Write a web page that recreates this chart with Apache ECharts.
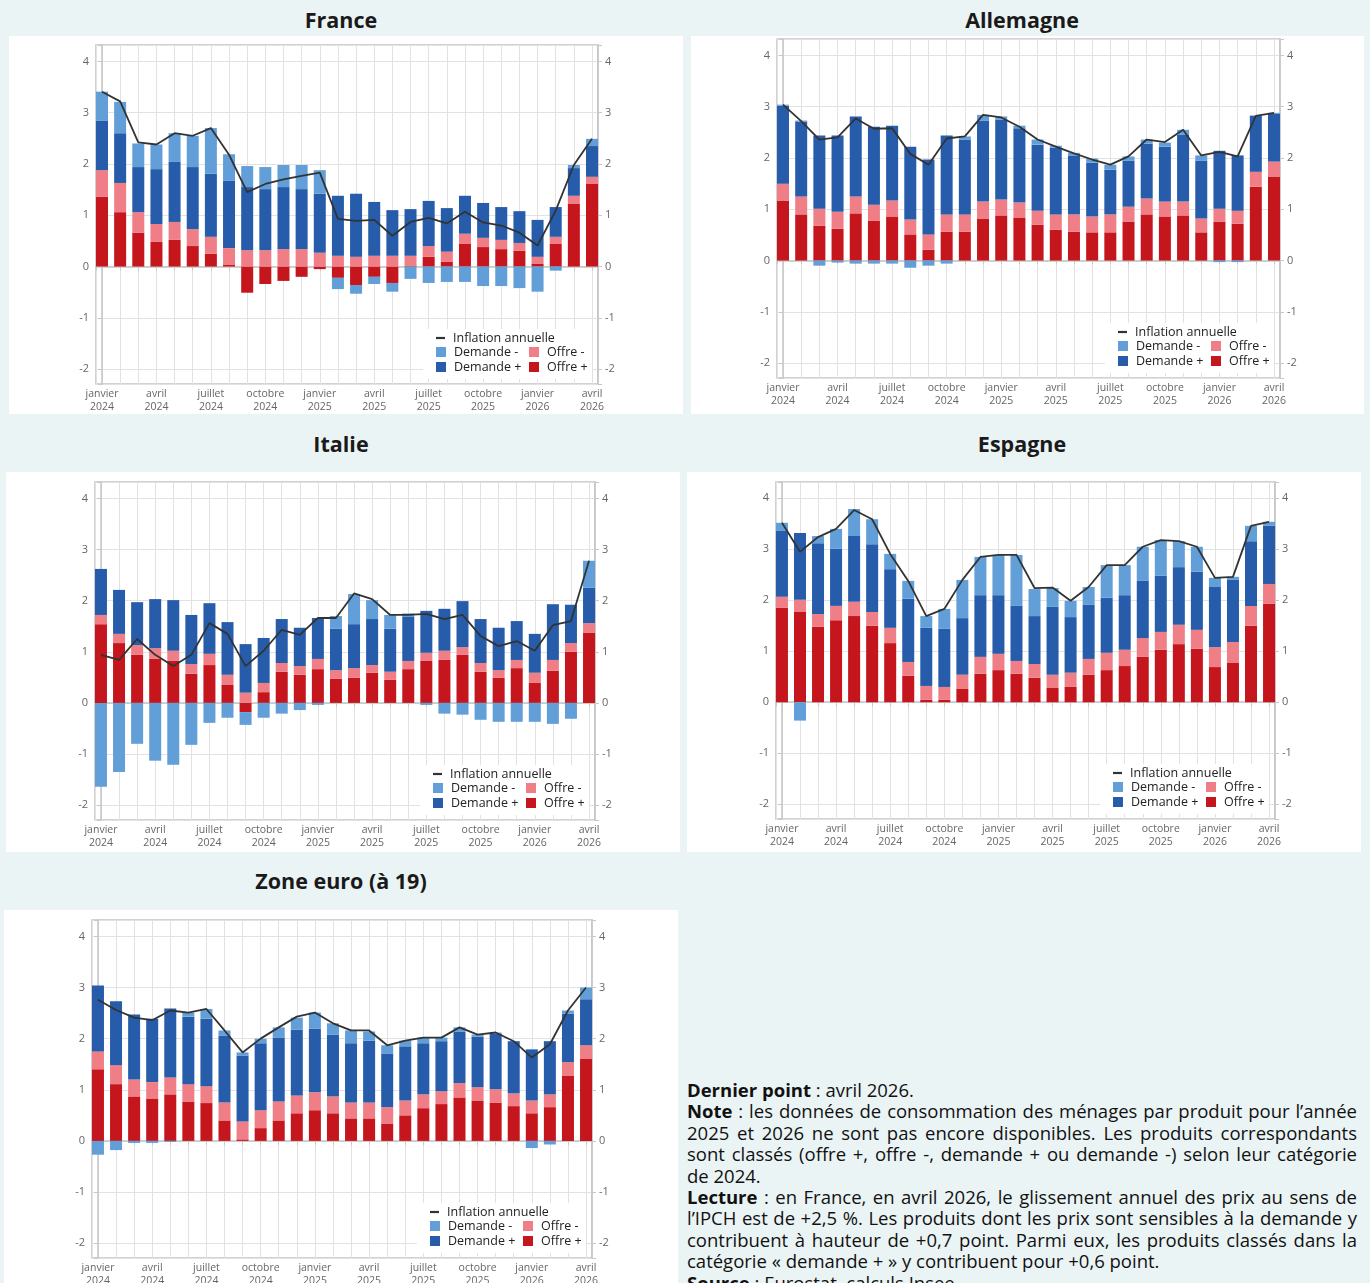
<!DOCTYPE html>
<html><head><meta charset="utf-8">
<script src="https://cdn.jsdelivr.net/npm/echarts@6/dist/echarts.min.js"></script>
<style>
html,body{margin:0;padding:0;width:1370px;height:1283px;overflow:hidden;background:#ebf4f5;font-family:'Open Sans','Noto Sans',sans-serif;}
.title{position:absolute;font-weight:bold;font-size:21.5px;line-height:26px;text-align:center;color:#1a1a1a;}
.box{position:absolute;background:#fff;}
.note{position:absolute;left:687px;top:1079px;width:670px;font-size:18.5px;line-height:21.4px;text-align:justify;color:#111;}
.note p{margin:0;}
</style></head>
<body>
<div class="title" style="left:0;width:682px;top:7px;">France</div>
<div class="title" style="left:682px;width:680px;top:7px;">Allemagne</div>
<div class="title" style="left:0;width:682px;top:431px;">Italie</div>
<div class="title" style="left:682px;width:680px;top:431px;">Espagne</div>
<div class="title" style="left:0;width:682px;top:868px;">Zone euro (à 19)</div>
<div class="box" id="fr" style="left:9px;top:36px;width:674px;height:378px;"></div>
<div class="box" id="de" style="left:691px;top:36px;width:673px;height:378px;"></div>
<div class="box" id="it" style="left:6px;top:472px;width:674px;height:380px;"></div>
<div class="box" id="es" style="left:687px;top:472px;width:674px;height:380px;"></div>
<div class="box" id="ez" style="left:4px;top:910px;width:674px;height:380px;"></div>
<div class="note">
<p><b>Dernier point</b> : avril 2026.</p>
<p><b>Note</b> : les données de consommation des ménages par produit pour l’année 2025 et 2026 ne sont pas encore disponibles. Les produits correspondants sont classés (offre +, offre -, demande + ou demande -) selon leur catégorie de 2024.</p>
<p><b>Lecture</b> : en France, en avril 2026, le glissement annuel des prix au sens de l’IPCH est de +2,5 %. Les produits dont les prix sont sensibles à la demande y contribuent à hauteur de +0,7 point. Parmi eux, les produits classés dans la catégorie « demande + » y contribuent pour +0,6 point.</p>
<p><b>Source</b> : Eurostat, calculs Insee.</p>
</div>
<script>
// ---- Categories (months) ----
const categories = ['2024-01','2024-02','2024-03','2024-04','2024-05','2024-06','2024-07','2024-08','2024-09','2024-10','2024-11','2024-12',
  '2025-01','2025-02','2025-03','2025-04','2025-05','2025-06','2025-07','2025-08','2025-09','2025-10','2025-11','2025-12',
  '2026-01','2026-02','2026-03','2026-04'];
const tickMonthNames = {'01':'janvier','04':'avril','07':'juillet','10':'octobre'};
const seriesNames = ['Offre +','Offre -','Demande +','Demande -','Inflation annuelle'];
const yTickValues = [-2,-1,0,1,2,3,4];

// ---- France ----
const franceOffrePlus    = [1.36,1.06,0.66,0.48,0.52,0.40,0.25,0.03,-0.51,-0.34,-0.28,-0.20,-0.05,-0.22,-0.36,-0.20,-0.32,0.02,0.19,0.09,0.44,0.38,0.34,0.31,0.05,0.44,1.22,1.61];
const franceOffreMoins   = [0.52,0.57,0.40,0.35,0.35,0.33,0.33,0.33,0.32,0.32,0.34,0.34,0.27,0.21,0.19,0.21,0.21,0.19,0.21,0.20,0.20,0.18,0.18,0.15,0.14,0.14,0.16,0.14];
const franceDemandePlus  = [0.96,0.97,0.88,1.07,1.17,1.21,1.23,1.31,1.23,1.19,1.21,1.17,1.15,1.17,1.23,1.05,0.89,0.91,0.88,0.85,0.74,0.68,0.64,0.62,0.72,0.58,0.54,0.60];
const franceDemandeMoins = [0.57,0.61,0.46,0.48,0.56,0.61,0.89,0.52,0.41,0.43,0.43,0.47,0.46,-0.22,-0.17,-0.14,-0.17,-0.24,-0.32,-0.30,-0.30,-0.38,-0.38,-0.42,-0.49,-0.08,0.06,0.14];
const franceInflation    = [3.41,3.22,2.42,2.38,2.60,2.55,2.70,2.18,1.45,1.61,1.70,1.77,1.83,0.93,0.89,0.91,0.60,0.87,0.95,0.84,1.07,0.86,0.80,0.66,0.41,1.09,1.98,2.49];

// ---- Allemagne ----
const allemagneOffrePlus    = [1.17,0.90,0.68,0.62,0.92,0.78,0.86,0.51,0.21,0.56,0.56,0.82,0.88,0.84,0.70,0.60,0.56,0.55,0.55,0.76,0.90,0.86,0.88,0.55,0.76,0.72,1.44,1.64];
const allemagneOffreMoins   = [0.33,0.35,0.33,0.33,0.33,0.31,0.31,0.29,0.30,0.34,0.34,0.33,0.31,0.29,0.27,0.30,0.34,0.31,0.35,0.29,0.31,0.29,0.27,0.27,0.25,0.25,0.29,0.29];
const allemagneDemandePlus  = [1.52,1.46,1.43,1.49,1.56,1.52,1.46,1.42,1.46,1.54,1.46,1.58,1.56,1.45,1.29,1.30,1.15,1.05,0.87,0.90,1.07,1.07,1.30,1.13,1.13,1.08,1.09,0.93];
const allemagneDemandeMoins = [0.02,0.02,-0.10,-0.04,-0.06,-0.06,-0.06,-0.14,-0.10,-0.06,0.06,0.11,0.06,0.05,0.10,0.04,0.05,0.08,0.10,0.08,0.08,0.08,0.10,0.10,-0.03,-0.03,0.01,0.02];
const allemagneInflation    = [3.04,2.72,2.36,2.40,2.77,2.57,2.58,2.08,1.87,2.38,2.42,2.84,2.79,2.61,2.36,2.22,2.09,1.97,1.87,2.03,2.36,2.31,2.55,2.05,2.12,2.03,2.82,2.88];

// ---- Italie ----
const italieOffrePlus    = [1.54,1.17,0.94,0.86,0.82,0.57,0.74,0.35,-0.18,0.21,0.61,0.55,0.66,0.47,0.49,0.59,0.45,0.66,0.82,0.84,0.94,0.61,0.49,0.68,0.39,0.63,1.00,1.37];
const italieOffreMoins   = [0.18,0.18,0.19,0.21,0.20,0.19,0.22,0.20,0.20,0.18,0.17,0.17,0.20,0.17,0.19,0.15,0.16,0.16,0.16,0.18,0.15,0.17,0.15,0.16,0.20,0.21,0.17,0.19];
const italieDemandePlus  = [0.90,0.86,0.84,0.96,0.99,0.96,0.99,1.03,0.95,0.88,0.86,0.75,0.80,0.81,0.86,0.90,0.84,0.86,0.82,0.82,0.90,0.86,0.83,0.76,0.76,1.09,0.75,0.69];
const italieDemandeMoins = [-1.64,-1.35,-0.80,-1.13,-1.21,-0.82,-0.39,-0.29,-0.25,-0.29,-0.21,-0.14,-0.04,0.25,0.59,0.37,0.27,0.07,-0.04,-0.21,-0.23,-0.33,-0.37,-0.37,-0.37,-0.41,-0.31,0.53];
const italieInflation    = [0.94,0.84,1.25,0.94,0.72,0.94,1.56,1.35,0.72,1.02,1.43,1.33,1.66,1.66,2.14,2.03,1.72,1.72,1.74,1.64,1.72,1.31,1.11,1.21,1.02,1.52,1.60,2.78];

// ---- Espagne ----
const espagneOffrePlus    = [1.85,1.77,1.48,1.61,1.69,1.50,1.16,0.52,0.05,0.05,0.26,0.56,0.63,0.56,0.48,0.28,0.30,0.54,0.63,0.71,0.89,1.03,1.14,1.05,0.69,0.77,1.50,1.93];
const espagneOffreMoins   = [0.22,0.24,0.25,0.28,0.28,0.27,0.30,0.27,0.27,0.25,0.28,0.33,0.32,0.25,0.27,0.26,0.28,0.31,0.34,0.32,0.37,0.35,0.38,0.37,0.39,0.41,0.39,0.39];
const espagneDemandePlus  = [1.29,1.31,1.39,1.12,1.29,1.33,1.15,1.24,1.14,1.14,1.11,1.21,1.15,1.08,0.94,1.33,1.09,1.06,1.08,1.07,1.12,1.10,1.13,1.14,1.18,1.22,1.27,1.14];
const espagneDemandeMoins = [0.16,-0.36,0.14,0.39,0.53,0.49,0.30,0.35,0.23,0.39,0.75,0.75,0.79,1.00,0.53,0.37,0.32,0.35,0.64,0.59,0.67,0.70,0.51,0.49,0.18,0.06,0.30,0.08];
const espagneInflation    = [3.52,2.95,3.24,3.40,3.77,3.59,2.91,2.38,1.69,1.83,2.40,2.85,2.89,2.89,2.24,2.25,1.99,2.26,2.69,2.69,3.05,3.18,3.16,3.05,2.44,2.46,3.46,3.54];

// ---- Zone euro ----
const zoneEuroOffrePlus    = [1.40,1.11,0.87,0.83,0.91,0.77,0.74,0.40,0.03,0.25,0.40,0.54,0.60,0.54,0.44,0.44,0.34,0.50,0.64,0.72,0.85,0.79,0.75,0.68,0.54,0.66,1.28,1.61];
const zoneEuroOffreMoins   = [0.35,0.37,0.33,0.32,0.33,0.34,0.33,0.35,0.35,0.35,0.37,0.35,0.35,0.33,0.31,0.31,0.32,0.29,0.27,0.25,0.28,0.26,0.26,0.25,0.25,0.25,0.26,0.26];
const zoneEuroDemandePlus  = [1.29,1.25,1.27,1.24,1.35,1.32,1.32,1.31,1.29,1.31,1.25,1.29,1.25,1.21,1.16,1.21,1.05,1.06,1.00,0.98,1.01,0.99,1.09,1.02,1.00,1.04,0.95,0.90];
const zoneEuroDemandeMoins = [-0.27,-0.18,-0.04,-0.04,-0.02,0.08,0.19,0.10,0.06,0.09,0.20,0.23,0.31,0.22,0.25,0.18,0.16,0.11,0.11,0.07,0.08,0.04,0.02,0.00,-0.14,-0.07,0.06,0.23];
const zoneEuroInflation    = [2.76,2.56,2.41,2.36,2.55,2.51,2.58,2.16,1.73,2.00,2.22,2.43,2.51,2.30,2.16,2.16,1.87,1.96,2.02,2.02,2.22,2.08,2.12,1.95,1.63,1.89,2.55,3.00];

// ---- Styling ----
const COLORS = {'Offre +':'#c4161c','Offre -':'#f07e87','Demande +':'#265ca9','Demande -':'#629fd8','Inflation annuelle':'#333333'};
const FONT = "'Open Sans','Noto Sans',sans-serif";
const Y_MIN = -2.29, Y_MAX = 4.32;
const X_PAD = 0.33;

function tickLabel(v){
  const i = Math.round(v);
  if (Math.abs(v - i) > 1e-6 || i < 0 || i >= categories.length) return '';
  const [y, m] = categories[i].split('-');
  return tickMonthNames[m] ? tickMonthNames[m] + '\n' + y : '';
}
function yLabel(v){
  const r = Math.round(v);
  return (Math.abs(v - r) < 1e-6 && yTickValues.indexOf(r) >= 0) ? String(r) : '';
}

function makePanel(id, grid, values){
  const chart = echarts.init(document.getElementById(id));
  const R = grid.left + grid.width, B = grid.top + grid.height;
  const n = categories.length;
  // inner grid: spans first to last category centre, matching the padded frame axis
  const inset = grid.width * X_PAD / (n - 1 + 2 * X_PAD);
  const series = [];
  for (let k = 0; k < 4; k++){
    series.push({name: seriesNames[k], type:'bar', stack:'total', barWidth:12, clip:false,
      xAxisIndex:1, yAxisIndex:2,
      data: values[k], itemStyle:{color: COLORS[seriesNames[k]]}, z:2});
  }
  series.push({name: seriesNames[4], type:'line', data: values[4], symbol:'none', clip:false,
    xAxisIndex:1, yAxisIndex:2,
    color: COLORS[seriesNames[4]], lineStyle:{color:COLORS[seriesNames[4]], width:1.8}, z:5});

  const textStyle = {fontSize:12.5, color:'#222', fontFamily:FONT, lineHeight:14, padding:[0,0,0,3]};
  const leg = (name, x, yc, line) => ({
    show:true, data:[name], left:x, top:yc - 7, padding:0, selectedMode:false,
    itemWidth: line ? 9 : 10, itemHeight: line ? 2.2 : 10, icon:'rect', textStyle
  });
  const legends = [
    leg('Inflation annuelle', R - 162, B - 46, true),
    leg('Demande -', R - 162, B - 32),
    leg('Offre -', R - 69, B - 32),
    leg('Demande +', R - 162, B - 17),
    leg('Offre +', R - 69, B - 17)
  ];
  const axisLabelY = {fontSize:11, color:'#666', fontFamily:FONT, margin:7, formatter:yLabel};
  const option = {
    animation:false,
    grid:[
      {left:grid.left, top:grid.top, width:grid.width, height:grid.height, show:true,
        borderColor:'#c4c4c4', borderWidth:1.5, backgroundColor:'transparent'},
      {left:grid.left + inset, top:grid.top, width:grid.width - 2 * inset, height:grid.height}
    ],
    legend: legends,
    graphic:[{type:'rect', z:1, shape:{x:R-175, y:B-55, width:169, height:50}, style:{fill:'#ffffff'}}],
    xAxis:[
      {type:'value', gridIndex:0, min:-X_PAD, max:n - 1 + X_PAD, minInterval:1, maxInterval:1,
        axisLine:{show:true, lineStyle:{color:'#c4c4c4', width:1.5}},
        axisTick:{show:true, length:4, lineStyle:{color:'#c8c8c8'}},
        splitLine:{show:true, lineStyle:{color:'#e2e2e2', width:1}},
        axisLabel:{fontSize:10.5, color:'#666', fontFamily:FONT, lineHeight:12.5, margin:4, formatter:tickLabel,
          showMinLabel:true, showMaxLabel:true}},
      {type:'category', gridIndex:1, data:categories, boundaryGap:false, show:false}
    ],
    yAxis:[
      {type:'value', gridIndex:0, position:'left', min:Y_MIN, max:Y_MAX, minInterval:1, maxInterval:1,
        axisLine:{show:true, lineStyle:{color:'#c4c4c4', width:1.5}},
        axisTick:{show:true, length:4, lineStyle:{color:'#c8c8c8'}},
        splitLine:{show:true, lineStyle:{color:'#e2e2e2', width:1}}, axisLabel:axisLabelY},
      {type:'value', gridIndex:0, position:'right', min:Y_MIN, max:Y_MAX, minInterval:1, maxInterval:1,
        axisLine:{show:true, lineStyle:{color:'#c4c4c4', width:1.5}},
        axisTick:{show:true, length:4, lineStyle:{color:'#c8c8c8'}},
        splitLine:{show:false}, axisLabel:axisLabelY},
      {type:'value', gridIndex:1, min:Y_MIN, max:Y_MAX, show:false, splitLine:{show:false}}
    ],
    series
  };
  chart.setOption(option);
}

makePanel('fr', {left:87, top:9, width:502, height:339},
  [franceOffrePlus, franceOffreMoins, franceDemandePlus, franceDemandeMoins, franceInflation]);
makePanel('de', {left:86, top:3, width:503, height:339},
  [allemagneOffrePlus, allemagneOffreMoins, allemagneDemandePlus, allemagneDemandeMoins, allemagneInflation]);
makePanel('it', {left:89, top:10, width:500, height:338},
  [italieOffrePlus, italieOffreMoins, italieDemandePlus, italieDemandeMoins, italieInflation]);
makePanel('es', {left:89, top:10, width:499, height:337},
  [espagneOffrePlus, espagneOffreMoins, espagneDemandePlus, espagneDemandeMoins, espagneInflation]);
makePanel('ez', {left:88, top:10, width:500, height:338},
  [zoneEuroOffrePlus, zoneEuroOffreMoins, zoneEuroDemandePlus, zoneEuroDemandeMoins, zoneEuroInflation]);
</script>
</body></html>
